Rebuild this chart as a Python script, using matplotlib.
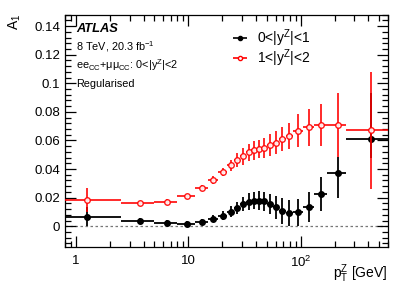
import matplotlib
matplotlib.use("Agg")
import matplotlib.pyplot as plt
import numpy as np
from matplotlib.ticker import MultipleLocator, FixedLocator, FixedFormatter, LogLocator, NullFormatter

plt.rcParams['font.family'] = ['Liberation Sans', 'DejaVu Sans']
plt.rcParams['mathtext.fontset'] = 'custom'
plt.rcParams['mathtext.rm'] = 'Liberation Sans'
plt.rcParams['mathtext.it'] = 'Liberation Sans:italic'

# pT bins (GeV)
edges = [0.0, 2.5, 5.0, 8.0, 11.4, 14.9, 18.5, 22.0, 25.5, 29.0, 32.6, 36.4,
         40.4, 44.9, 50.2, 56.4, 63.9, 73.4, 85.4, 105.0, 132.0, 173.0, 253.0, 600.0]

# 0<|y|<1
a1_y1 = [0.0068, 0.0035, 0.0022, 0.0017, 0.0028, 0.0052, 0.0075, 0.0102, 0.0128,
         0.0156, 0.0172, 0.0179, 0.0179, 0.0174, 0.0153, 0.0132, 0.0105, 0.0095,
         0.0099, 0.0137, 0.0223, 0.0369, 0.0613]
err_y1_lo = [0.0068, 0.002, 0.002, 0.002, 0.002, 0.0025, 0.003, 0.004, 0.004,
             0.005, 0.006, 0.006, 0.0065, 0.0065, 0.007, 0.008, 0.009, 0.009,
             0.0095, 0.011, 0.0118, 0.017, 0.0135]
err_y1_hi = [0.0068, 0.002, 0.002, 0.002, 0.002, 0.0025, 0.003, 0.004, 0.004,
             0.005, 0.006, 0.006, 0.0065, 0.0065, 0.007, 0.008, 0.009, 0.009,
             0.0095, 0.0103, 0.0118, 0.0115, 0.032]

# 1<|y|<2
a1_y2 = [0.0184, 0.016, 0.0172, 0.0209, 0.0268, 0.0323, 0.0379, 0.0425, 0.0465,
         0.049, 0.0518, 0.053, 0.0539, 0.0548, 0.0567, 0.0585, 0.0611, 0.0632,
         0.0667, 0.0693, 0.0709, 0.0709, 0.0672]
err_y2 = [0.0084, 0.002, 0.002, 0.002, 0.002, 0.0025, 0.003, 0.004, 0.005,
          0.006, 0.006, 0.0065, 0.0065, 0.007, 0.0075, 0.008, 0.0085, 0.009,
          0.0115, 0.013, 0.0145, 0.0225, 0.041]

edges = np.array(edges)
centers = 0.5 * (edges[:-1] + edges[1:])
xlo = centers - edges[:-1]
xlo[0] = centers[0] - 1e-3
xhi = edges[1:] - centers

fig = plt.figure(figsize=(4.09, 2.94), dpi=100)
ax = fig.add_axes([0.159, 0.160, 0.79, 0.79])

ax.axhline(0, color='#777777', ls=(0, (2, 2)), lw=0.9, zorder=1)

ax.errorbar(centers, a1_y1, xerr=[xlo, xhi], yerr=[err_y1_lo, err_y1_hi],
            fmt='o', color='black', ms=4, lw=1.3, capsize=0, zorder=3)
ax.errorbar(centers, a1_y2, xerr=[xlo, xhi], yerr=err_y2,
            fmt='o', color='red', mfc='white', mec='red', mew=1.0, ms=4,
            lw=1.3, capsize=0, alpha=0.9, zorder=4)

ax.set_xscale('log')
ax.set_xlim(0.8, 600)
ax.set_ylim(-0.0145, 0.148)

ax.xaxis.set_major_locator(FixedLocator([1, 10, 100]))
ax.xaxis.set_major_formatter(FixedFormatter(['1', '10', '$10^2$']))
ax.xaxis.set_minor_locator(LogLocator(base=10, subs=np.arange(2, 10)))
ax.xaxis.set_minor_formatter(NullFormatter())
ax.yaxis.set_major_locator(FixedLocator([0, 0.02, 0.04, 0.06, 0.08, 0.1, 0.12, 0.14]))
ax.yaxis.set_major_formatter(FixedFormatter(['0', '0.02', '0.04', '0.06', '0.08', '0.1', '0.12', '0.14']))
ax.yaxis.set_minor_locator(MultipleLocator(0.004))

ax.tick_params(which='both', direction='in', top=True, right=True, labelsize=9.5, width=0.9)
ax.tick_params(which='major', length=8)
ax.tick_params(which='minor', length=4)
ax.tick_params(axis='x', pad=6)
for s in ax.spines.values():
    s.set_linewidth(0.9)

fig.text(0.035, 0.955, 'A$_1$', rotation=90, ha='center', va='top', fontsize=10)
fig.text(0.948, (294 - 278) / 294, 'p$_\\mathrm{T}^\\mathrm{Z}$ [GeV]', ha='right', va='baseline', fontsize=10)

ax.text(0.035, 0.927, 'ATLAS', transform=ax.transAxes, fontsize=9.3,
        fontweight='bold', fontstyle='italic', va='baseline')
ax.text(0.035, 0.844, '8 TeV, 20.3 fb$^{-1}$', transform=ax.transAxes, fontsize=7.8, va='baseline')
ax.text(0.035, 0.766, 'ee$_\\mathrm{CC}$+$\\mathrm{\\mu\\mu}_\\mathrm{CC}$: 0<|y$^\\mathrm{Z}$|<2',
        transform=ax.transAxes, fontsize=7.8, va='baseline')
ax.text(0.035, 0.69, 'Regularised', transform=ax.transAxes, fontsize=7.8, va='baseline')

h1 = ax.errorbar([], [], xerr=[], fmt='o', color='black', ms=3, lw=1.2)
h2 = ax.errorbar([], [], xerr=[], fmt='o', color='red', mfc='white', mec='red', ms=3, lw=1.2)
ax.legend([h1, h2], ['0<|y$^\\mathrm{Z}$|<1', '1<|y$^\\mathrm{Z}$|<2'], loc='upper left',
          bbox_to_anchor=(0.505, 0.945), frameon=False, fontsize=10,
          borderpad=0, borderaxespad=0, handlelength=1.75, handletextpad=0.3,
          labelspacing=-0.15)

fig.savefig('out.png', dpi=100)
